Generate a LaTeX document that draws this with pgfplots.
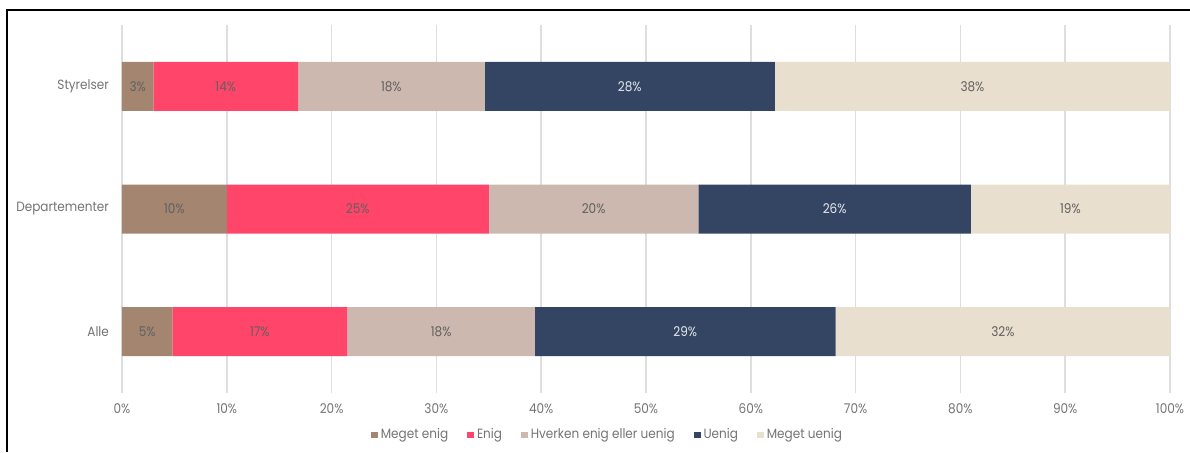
\documentclass[border=0pt]{standalone}
\usepackage{pgfplots}
\pgfplotsset{compat=1.18}
\usepackage{pgfplotstable}
\usepackage{fontspec}
\setmainfont{Poppins}[FakeStretch=0.9]

\definecolor{megetenig}{HTML}{A38570}
\definecolor{enig}{HTML}{FF456A}
\definecolor{hverken}{HTML}{CDB8AF}
\definecolor{uenig}{HTML}{344564}
\definecolor{megetuenig}{HTML}{E9DFCE}
\definecolor{gridgray}{HTML}{DEDEDE}
\definecolor{labelgray}{HTML}{747474}
\definecolor{valgray}{HTML}{606060}

% Share of answers (%) per group: 0 = Alle, 1 = Departementer, 2 = Styrelser
\pgfplotstableread{
pos a    b    c    d    e
0   4.8  16.7 17.9 28.7 31.9
1   10   25   20   26   19
2   3.0  13.8 17.8 27.7 37.7
}\survey

\newcommand{\labfont}{\fontsize{6.7}{8}\selectfont}

\begin{document}
\begin{tikzpicture}[x=1pt,y=1pt]
\useasboundingbox (0,0) rectangle (595,226);
\draw[line width=1pt] (3.5,0) -- (3.5,221) -- (595,221);
\begin{axis}[
  at={(61pt,29.5pt)}, anchor=south west,
  scale only axis, width=524pt, height=184pt,
  xbar stacked, bar width=24.5pt,
  xmin=0, xmax=100, ymin=-0.5, ymax=2.5,
  ytick={0,1,2}, yticklabels={Alle,Departementer,Styrelser},
  xtick={0,10,...,100},
  xticklabel={\pgfmathprintnumber{\tick}\%},
  /pgf/number format/assume math mode=true,
  axis line style={draw=none}, major tick length=0pt,
  xmajorgrids, grid style={gridgray, line width=0.75pt},
  tick label style={font=\labfont, text=labelgray},
  yticklabel style={xshift=-3pt},
  xticklabel style={yshift=-2pt},
  point meta=explicit,
  % stacked segments: the value label sits in the middle of each segment
  nodes near coords={\pgfmathprintnumber[fixed,precision=0]{\pgfplotspointmeta}\%},
  every node near coord/.style={font=\labfont, text=valgray, anchor=center},
  legend style={at={(0.4637,-0.114)}, anchor=center, draw=none, fill=none,
    font=\labfont, text=labelgray, nodes={inner xsep=1.5pt},
    /tikz/every even column/.append style={column sep=8pt}},
  legend columns=-1,
  legend image code/.code={\fill[#1] (0pt,-1.7pt) rectangle (3.4pt,1.7pt);},
]
\addplot[fill=megetenig, draw=none] table[x=a, y=pos, meta=a] {\survey};
\addplot[fill=enig, draw=none] table[x=b, y=pos, meta=b] {\survey};
\addplot[fill=hverken, draw=none] table[x=c, y=pos, meta=c] {\survey};
\addplot[fill=uenig, draw=none,
  every node near coord/.append style={text=white!88!uenig}]
  table[x=d, y=pos, meta=d] {\survey};
\addplot[fill=megetuenig, draw=none] table[x=e, y=pos, meta=e] {\survey};
\legend{Meget enig, Enig, Hverken enig eller uenig, Uenig, Meget uenig}
\end{axis}
\end{tikzpicture}
\end{document}
